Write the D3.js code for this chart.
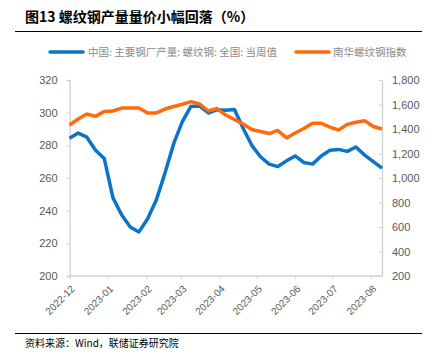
<!DOCTYPE html>
<html><head><meta charset="utf-8">
<script src="https://cdn.jsdelivr.net/npm/d3@7"></script>
<style>body{margin:0;background:#fff;} svg{display:block;}</style>
</head><body>
<svg id="c" width="440" height="357"></svg>
<script>
const startDate = "2022-12-01";
const weeks = 37;
const production = [284.3,287.5,285,277,272,248,237.5,230,227,235,246.5,263,281,294.5,304,304,299.8,301.8,301.5,302,290.5,280,273,268.5,267,270.5,273.5,269.5,268.5,273.5,277,277.5,276.3,279,274,270,266];
const priceIndex = [1433,1482,1522,1503,1543,1547,1571,1571,1571,1531,1531,1563,1584,1602,1623,1604,1547,1567,1514,1478,1441,1396,1380,1363,1388,1327,1367,1404,1447,1447,1416,1392,1438,1455,1468,1420,1400];
const leftTicks = [200,220,240,260,280,300,320];
const rightTicks = [200,400,600,800,1000,1200,1400,1600,1800];
const monthTicks = ["2022-12","2023-01","2023-02","2023-03","2023-04","2023-05","2023-06","2023-07","2023-08"];
const seriesNames = ["中国: 主要钢厂产量: 螺纹钢: 全国: 当周值","南华螺纹钢指数"];
const title = "图13 螺纹钢产量量价小幅回落（%）";
const source = "资料来源：Wind，联储证券研究院";

const parse = d3.timeParse("%Y-%m-%d");
const t0 = parse(startDate);
const dates = d3.range(weeks).map(i => d3.timeDay.offset(t0, i*7));
const svg = d3.select("#c");
const L = 69.5, R = 382, T = 80, B = 276;
const x = d3.scaleTime().domain([dates[0], dates[dates.length-1]]).range([L, R]);
const yL = d3.scaleLinear().domain([200,320]).range([B, T]);
const yR = d3.scaleLinear().domain([200,1800]).range([B, T]);
const gray = "#595959", axisCol = "#d0d0d0";
const font = "'Liberation Sans', Arial, sans-serif";
const cjk = "'Noto Sans CJK SC', sans-serif";

// title
svg.append("text").attr("x",25).attr("y",22).attr("font-family",cjk).attr("font-weight","bold")
  .attr("font-size",14).attr("fill","#000").text(title);
svg.append("line").attr("x1",15).attr("x2",422).attr("y1",31.5).attr("y2",31.5).attr("stroke","#000").attr("stroke-width",1);

// legend
const leg = [{c:"#0B74C8",x:50,tx:88},{c:"#FF6A0D",x:296,tx:333}];
leg.forEach((l,i)=>{
  svg.append("line").attr("x1",l.x).attr("x2",l.x+33).attr("y1",52).attr("y2",52).attr("stroke",l.c).attr("stroke-width",3.5).attr("stroke-linecap","round");
  svg.append("text").attr("x",l.tx).attr("y",56).attr("font-family",cjk).attr("font-size",10.5).attr("fill","#8a8a8a").text(seriesNames[i]);
});

// axes
const gl = svg.append("g").attr("transform",`translate(${L},0)`).call(d3.axisLeft(yL).tickValues(leftTicks).tickSize(3).tickPadding(9));
const gr = svg.append("g").attr("transform",`translate(${R},0)`).call(d3.axisRight(yR).tickValues(rightTicks).tickSize(0).tickPadding(10).tickFormat(d3.format(",")));
gr.selectAll(".tick").append("line").attr("x1",-3).attr("x2",0).attr("stroke",axisCol);
const monthDates = monthTicks.map(m=>d3.timeParse("%Y-%m")(m));
const gb = svg.append("g").attr("transform",`translate(0,${B})`).call(d3.axisBottom(x).tickValues(monthDates).tickSize(3).tickFormat(d3.timeFormat("%Y-%m")));
[gl,gr,gb].forEach(g=>{
  g.select(".domain").attr("stroke",axisCol).attr("stroke-width",1.3);
  g.selectAll(".tick line").attr("stroke",axisCol);
  g.selectAll("text").attr("font-family",font).attr("fill",gray);
});
gl.selectAll("text").attr("font-size",11);
gr.selectAll("text").attr("font-size",11);
gb.select(".domain").attr("d",`M${L},0H${R}`);
gb.selectAll("text").attr("font-size",10).attr("text-anchor","end")
  .attr("transform","translate(3,11) rotate(-45)").attr("x",0).attr("y",0).attr("dy","0.35em");

// lines
const lineL = d3.line().x((d,i)=>x(dates[i])).y(d=>yL(d));
const lineR = d3.line().x((d,i)=>x(dates[i])).y(d=>yR(d));
svg.append("path").datum(production).attr("d",lineL).attr("fill","none").attr("stroke","#0B74C8").attr("stroke-width",3.5).attr("stroke-linejoin","round");
svg.append("path").datum(priceIndex).attr("d",lineR).attr("fill","none").attr("stroke","#FF6A0D").attr("stroke-width",3.5).attr("stroke-linejoin","round");

// source
svg.append("line").attr("x1",15).attr("x2",422).attr("y1",333.5).attr("y2",333.5).attr("stroke","#000").attr("stroke-width",1);
svg.append("text").attr("x",25).attr("y",347).attr("font-family",cjk).attr("font-size",10).attr("fill","#000").text(source);
</script>
</body></html>
